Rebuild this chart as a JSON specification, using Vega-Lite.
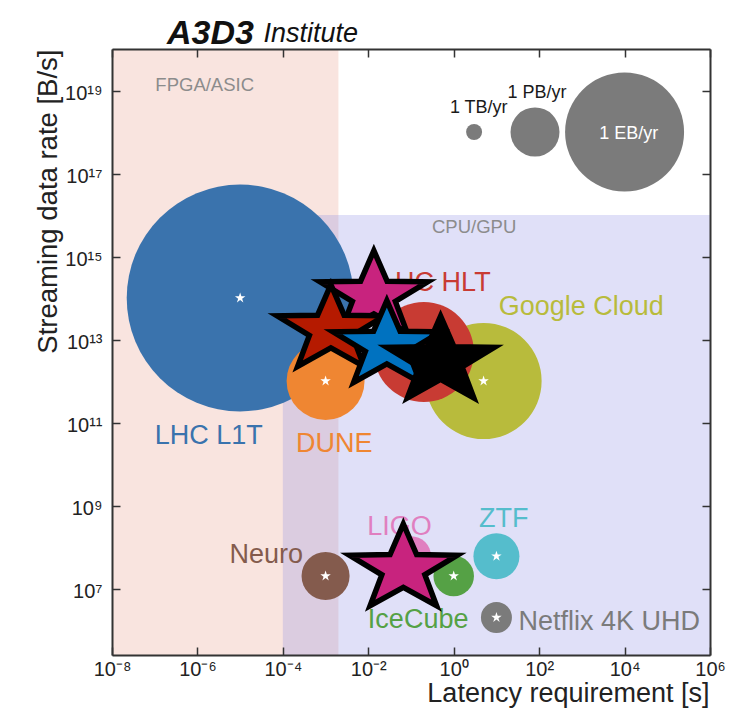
{
  "$schema": "https://vega.github.io/schema/vega-lite/v6.json",
  "width": 598,
  "height": 606,
  "autosize": "none",
  "padding": {"left": 112, "top": 49, "right": 42, "bottom": 54},
  "background": "white",
  "title": {"text": "A3D3", "anchor": "start", "frame": "group", "fontSize": 34, "fontWeight": "bold", "fontStyle": "italic", "color": "#111111", "dx": 55, "dy": 58, "offset": 0, "baseline": "alphabetic"},
  "datasets": {
    "regions": [
      {"region": "FPGA/ASIC", "lat_lo": 1e-8, "lat_hi": 0.002, "rate_lo": 250000, "rate_hi": 1e20, "label_lat": 1.48e-6, "label_rate": 9.56e18},
      {"region": "CPU/GPU", "lat_lo": 0.0001, "lat_hi": 1000000, "rate_lo": 250000, "rate_hi": 1e16, "label_lat": 3.0, "label_rate": 3.72e15}
    ],
    "apps": [
      {"name": "LHC L1T", "latency": 1e-5, "rate": 1e14, "volume": 1.8e20, "label_lat": 1.84e-6, "label_rate": 3.04e10},
      {"name": "DUNE", "latency": 0.001, "rate": 1e12, "volume": 3.5e16, "label_lat": 0.0016, "label_rate": 1.99e10},
      {"name": "Google Cloud", "latency": 5, "rate": 1e12, "volume": 8.2e17, "label_lat": 970, "label_rate": 3.8e13},
      {"name": "LHC HLT", "latency": 0.2, "rate": 5e12, "volume": 2.5e17, "label_lat": 0.372, "label_rate": 1.49e14},
      {"name": "Neuro", "latency": 0.001, "rate": 2e7, "volume": 8.6e14, "label_lat": 4.1e-5, "label_rate": 4.08e7},
      {"name": "LIGO", "latency": 0.1, "rate": 6e7, "volume": 2.3e14, "label_lat": 0.054, "label_rate": 1.96e8},
      {"name": "IceCube", "latency": 1, "rate": 2e7, "volume": 2.5e14, "label_lat": 0.147, "label_rate": 1.11e6},
      {"name": "ZTF", "latency": 10, "rate": 6e7, "volume": 6.3e14, "label_lat": 14.8, "label_rate": 2.97e8},
      {"name": "Netflix 4K UHD", "latency": 10, "rate": 2e6, "volume": 3.95e13, "label_lat": 4365, "label_rate": 9.9e5}
    ],
    "refs": [
      {"label": "1 TB/yr", "latency": 3, "rate": 1e18, "volume": 1e12, "label_lat": 3.85, "label_rate": 2.92e18},
      {"label": "1 PB/yr", "latency": 80, "rate": 1e18, "volume": 1e15, "label_lat": 89, "label_rate": 6.56e18},
      {"label": "1 EB/yr", "latency": 10000, "rate": 1e18, "volume": 1e18, "label_lat": 12600, "label_rate": 6.65e17}
    ],
    "stars": [
      {"id": "A", "latency": 0.0135, "rate": 1.13e14},
      {"id": "B", "latency": 0.00133, "rate": 1.71e13},
      {"id": "C", "latency": 0.0272, "rate": 7.05e12},
      {"id": "D", "latency": 0.493, "rate": 2.98e12},
      {"id": "E", "latency": 0.0662, "rate": 2.92e7}
    ]
  },
  "resolve": {"scale": {"color": "independent"}, "axis": {"x": "independent", "y": "independent"}},
  "layer": [
    {
      "data": {"name": "regions"},
      "mark": {"type": "rect", "opacity": 0.25},
      "encoding": {
        "x": {"field": "lat_lo", "type": "quantitative",
          "scale": {"type": "log", "domain": [1e-8, 1000000], "nice": false},
          "axis": {"orient": "bottom", "values": [1e-8, 1e-6, 0.0001, 0.01, 1, 100, 10000, 1000000],
            "labelExpr": "'10' + ['⁻⁸','⁻⁷','⁻⁶','⁻⁵','⁻⁴','⁻³','⁻²','⁻¹','⁰','¹','²','³','⁴','⁵','⁶'][round(log(datum.value)/LN10)+8]",
            "tickSize": -8, "tickWidth": 1.5, "tickColor": "#333333", "domainColor": "#333333", "domainWidth": 2,
            "labelFontSize": 20, "labelColor": "#222222", "labelPadding": 12, "labelFlush": false, "labelOverlap": false,
            "grid": false, "zindex": 1,
            "title": "Latency requirement [s]", "titleFontSize": 27, "titleFontWeight": "normal", "titleColor": "#222222",
            "titleAlign": "right", "titleBaseline": "alphabetic", "titleX": 597, "titleY": 46}},
        "x2": {"field": "lat_hi"},
        "y": {"field": "rate_lo", "type": "quantitative",
          "scale": {"type": "log", "domain": [250000, 1e20], "nice": false},
          "axis": {"orient": "left", "values": [1e7, 1e9, 1e11, 1e13, 1e15, 1e17, 1e19],
            "labelExpr": "'10' + ['⁰','¹','²','³','⁴','⁵','⁶','⁷','⁸','⁹','¹⁰','¹¹','¹²','¹³','¹⁴','¹⁵','¹⁶','¹⁷','¹⁸','¹⁹','²⁰'][round(log(datum.value)/LN10)]",
            "tickSize": -8, "tickWidth": 1.5, "tickColor": "#333333", "domainColor": "#333333", "domainWidth": 2,
            "labelFontSize": 20, "labelColor": "#222222", "labelPadding": 18, "labelOffset": 3, "labelFlush": false, "labelOverlap": false,
            "grid": false, "zindex": 1,
            "title": "Streaming data rate [B/s]", "titleFontSize": 27.5, "titleFontWeight": "normal", "titleColor": "#222222",
            "titleAngle": 270, "titleAlign": "right", "titleBaseline": "alphabetic", "titleX": -55.5, "titleY": 0}},
        "y2": {"field": "rate_hi"},
        "color": {"field": "region", "type": "nominal",
          "scale": {"domain": ["FPGA/ASIC", "CPU/GPU"], "range": ["#e7937f", "#8383e3"]}, "legend": null}
      }
    },
    {
      "data": {"name": "regions"},
      "mark": {"type": "text", "fontSize": 18.5, "color": "#8c8c8c", "align": "center", "baseline": "alphabetic"},
      "encoding": {
        "x": {"field": "label_lat", "type": "quantitative",
          "axis": {"orient": "top", "values": [1e-8, 1e-6, 0.0001, 0.01, 1, 100, 10000, 1000000], "labels": false,
            "tickSize": -8, "tickWidth": 1.5, "tickColor": "#333333", "domainColor": "#333333", "domainWidth": 2,
            "grid": false, "zindex": 1,
            "title": "Institute", "titleFontSize": 27, "titleFontWeight": "normal", "titleFontStyle": "italic", "titleColor": "#111111",
            "titleAlign": "left", "titleBaseline": "alphabetic", "titleX": 151, "titleY": -7.3}},
        "y": {"field": "label_rate", "type": "quantitative",
          "axis": {"orient": "right", "values": [1e7, 1e9, 1e11, 1e13, 1e15, 1e17, 1e19], "labels": false,
            "tickSize": -8, "tickWidth": 1.5, "tickColor": "#333333", "domainColor": "#333333", "domainWidth": 2,
            "grid": false, "zindex": 1, "title": null}},
        "text": {"field": "region"}
      }
    },
    {
      "data": {"name": "apps"},
      "mark": {"type": "point", "shape": "circle", "filled": true, "opacity": 1},
      "encoding": {
        "x": {"field": "latency", "type": "quantitative", "axis": null},
        "y": {"field": "rate", "type": "quantitative", "axis": null},
        "size": {"field": "volume", "type": "quantitative",
          "scale": {"type": "pow", "exponent": 0.2463, "domain": [1e12, 1e18], "range": [256, 14161], "zero": false}, "legend": null},
        "color": {"field": "name", "type": "nominal",
          "scale": {"domain": ["LHC L1T", "DUNE", "Google Cloud", "LHC HLT", "Neuro", "LIGO", "IceCube", "ZTF", "Netflix 4K UHD"],
            "range": ["#3a73ad", "#ef8632", "#b8bb3c", "#c83b33", "#845b4d", "#e07fc0", "#55a145", "#55bdcc", "#7b7b7b"]}, "legend": null}
      }
    },
    {
      "data": {"name": "refs"},
      "mark": {"type": "point", "shape": "circle", "filled": true, "opacity": 1, "color": "#7b7b7b"},
      "encoding": {
        "x": {"field": "latency", "type": "quantitative", "axis": null},
        "y": {"field": "rate", "type": "quantitative", "axis": null},
        "size": {"field": "volume", "type": "quantitative",
          "scale": {"type": "pow", "exponent": 0.2463, "domain": [1e12, 1e18], "range": [256, 14161], "zero": false}, "legend": null}
      }
    },
    {
      "data": {"name": "apps"},
      "mark": {"type": "point", "shape": "M0,-1L0.2245,-0.309L0.9511,-0.309L0.3633,0.118L0.5878,0.809L0,0.382L-0.5878,0.809L-0.3633,0.118L-0.9511,-0.309L-0.2245,-0.309Z", "filled": true, "opacity": 1, "color": "#ffffff", "size": 121},
      "encoding": {
        "x": {"field": "latency", "type": "quantitative", "axis": null},
        "y": {"field": "rate", "type": "quantitative", "axis": null}
      }
    },
    {
      "data": {"name": "apps"},
      "mark": {"type": "text", "fontSize": 27, "align": "center", "baseline": "alphabetic"},
      "encoding": {
        "x": {"field": "label_lat", "type": "quantitative", "axis": null},
        "y": {"field": "label_rate", "type": "quantitative", "axis": null},
        "text": {"field": "name"},
        "color": {"field": "name", "type": "nominal",
          "scale": {"domain": ["LHC L1T", "DUNE", "Google Cloud", "LHC HLT", "Neuro", "LIGO", "IceCube", "ZTF", "Netflix 4K UHD"],
            "range": ["#3a73ad", "#ef8632", "#b8bb3c", "#c83b33", "#845b4d", "#e07fc0", "#55a145", "#55bdcc", "#7b7b7b"]}, "legend": null}
      }
    },
    {
      "data": {"name": "stars"},
      "mark": {"type": "point", "shape": "M0,-0.8L0.2351,-0.2589L0.9511,-0.2472L0.3804,0.0989L0.5878,0.6472L0,0.32L-0.5878,0.6472L-0.3804,0.0989L-0.9511,-0.2472L-0.2351,-0.2589Z", "filled": true, "opacity": 1, "size": 12769, "stroke": "#000000", "strokeWidth": 5.5, "strokeJoin": "miter", "strokeMiterLimit": 10},
      "encoding": {
        "x": {"field": "latency", "type": "quantitative", "axis": null},
        "y": {"field": "rate", "type": "quantitative", "axis": null},
        "fill": {"field": "id", "type": "nominal",
          "scale": {"domain": ["A", "B", "C", "D", "E"], "range": ["#c8237e", "#b51a00", "#0072c0", "#000000", "#c8237e"]}, "legend": null}
      }
    },
    {
      "data": {"name": "refs"},
      "mark": {"type": "text", "fontSize": 18, "align": "center", "baseline": "alphabetic"},
      "encoding": {
        "x": {"field": "label_lat", "type": "quantitative", "axis": null},
        "y": {"field": "label_rate", "type": "quantitative", "axis": null},
        "text": {"field": "label"},
        "color": {"condition": {"test": "datum.volume >= 1e18", "value": "#ffffff"}, "value": "#1a1a1a"}
      }
    }
  ],
  "config": {
    "view": {"stroke": null},
    "font": "Liberation Sans"
  }
}
